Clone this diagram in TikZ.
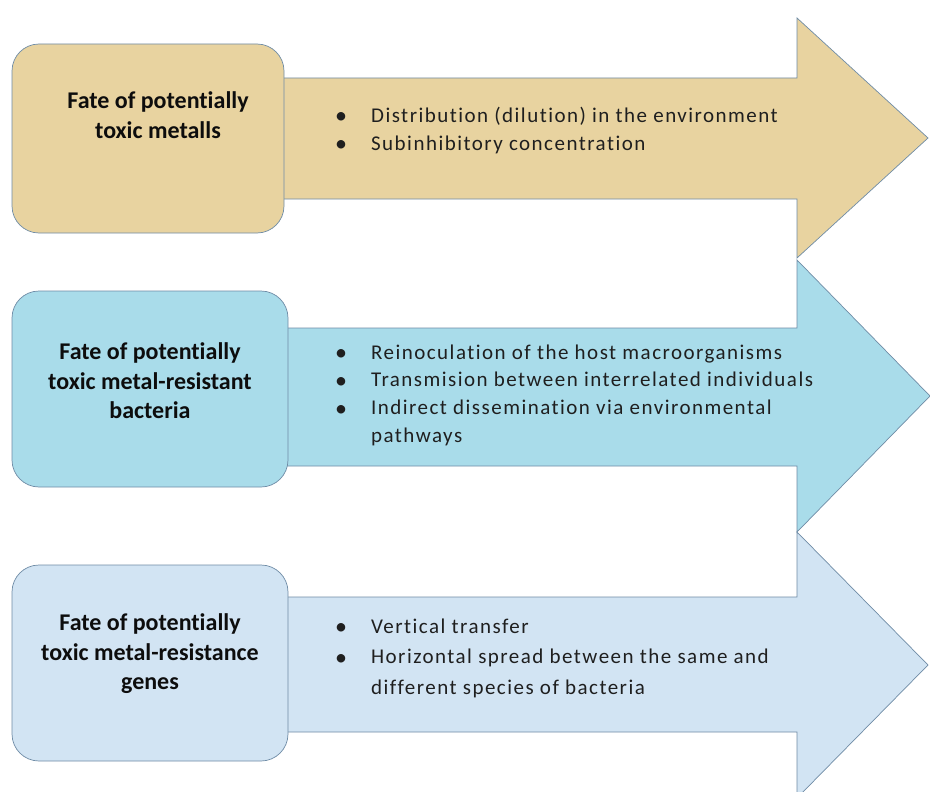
\documentclass[tikz,border=0pt]{standalone}
\usepackage{fontspec}
\setmainfont{Carlito}[Ligatures=NoCommon]
\usetikzlibrary{positioning}
\definecolor{papyrus}{HTML}{E8D3A0}
\definecolor{drops}{HTML}{A9DCEA}
\definecolor{frost}{HTML}{D2E4F3}
\definecolor{edge}{HTML}{6F8CA6}
\newcommand{\fbul}{\raisebox{-1.5pt}{\fontsize{24}{24}\selectfont\textbullet}}
\tikzset{
  fatearrow/.style={draw=edge, line width=0.7pt, line join=miter},
  fatebox/.style={draw=edge, line width=0.7pt, rounded corners=27pt, inner sep=0pt},
  fatetitle/.style={font=\fontsize{24}{29.5}\selectfont\bfseries, align=center, text=black!95},
  fatelist/.style={font=\fontsize{21}{28}\selectfont\addfontfeature{LetterSpace=7}, inner sep=0pt, anchor=north west, text=black!88},
}

\begin{document}
\begin{tikzpicture}[x=1pt,y=-1pt]
  \fill[white] (0,0) rectangle (930,792);
  \useasboundingbox (0,0) rectangle (930,792);
  \clip (0,0) rectangle (930,792);

  % arrows
  \draw[fatearrow, fill=papyrus] (250,78) -- (797,78) -- (797,18) -- (928,138)
    -- (797,258) -- (797,199) -- (250,199) -- cycle;
  \draw[fatearrow, fill=drops] (250,328) -- (797,328) -- (797,260) -- (930,396)
    -- (797,532) -- (797,466) -- (250,466) -- cycle;
  \draw[fatearrow, fill=frost] (250,597) -- (797,597) -- (797,532) -- (928,665)
    -- (797,798) -- (797,732) -- (250,732) -- cycle;

  % boxes
  \node[fatebox, fill=papyrus, minimum width=272pt, minimum height=189pt] (metals) at (148,138.5) {};
  \node[fatebox, fill=drops, minimum width=276pt, minimum height=196pt] (bacteria) at (150,389) {};
  \node[fatebox, fill=frost, minimum width=276pt, minimum height=196pt] (genes) at (150,663) {};

  \node[fatetitle] (metalsT) at (158,115) {Fate of potentially\\toxic metalls};
  \node[fatetitle] (bacteriaT) at (150,381) {Fate of potentially\\toxic metal-resistant\\bacteria};
  \node[fatetitle] (genesT) at (150,654) {Fate of potentially\\toxic metal-resistance\\genes};

  % bullet lists
  \node[fatelist] (metalsL) at (335,102.4) {\begin{tabular}{@{}l@{\hspace{24pt}}l@{}}
    \fbul & Distribution (dilution) in the environment\\
    \fbul & Subinhibitory concentration
  \end{tabular}};
  \node[fatelist, font=\fontsize{21}{27.7}\selectfont\addfontfeature{LetterSpace=7}] (bacteriaL) at (335,339.6) {\begin{tabular}{@{}l@{\hspace{24pt}}l@{}}
    \fbul & Reinoculation of the host macroorganisms\\
    \fbul & Transmision between interrelated individuals\\
    \fbul & Indirect dissemination via environmental\\
          & pathways
  \end{tabular}};
  \node[fatelist, font=\fontsize{21}{30.5}\selectfont\addfontfeature{LetterSpace=7}] (genesL) at (335,611.6) {\begin{tabular}{@{}l@{\hspace{24pt}}l@{}}
    \fbul & Vertical transfer\\
    \fbul & Horizontal spread between the same and\\
          & different species of bacteria
  \end{tabular}};
\end{tikzpicture}
\end{document}
